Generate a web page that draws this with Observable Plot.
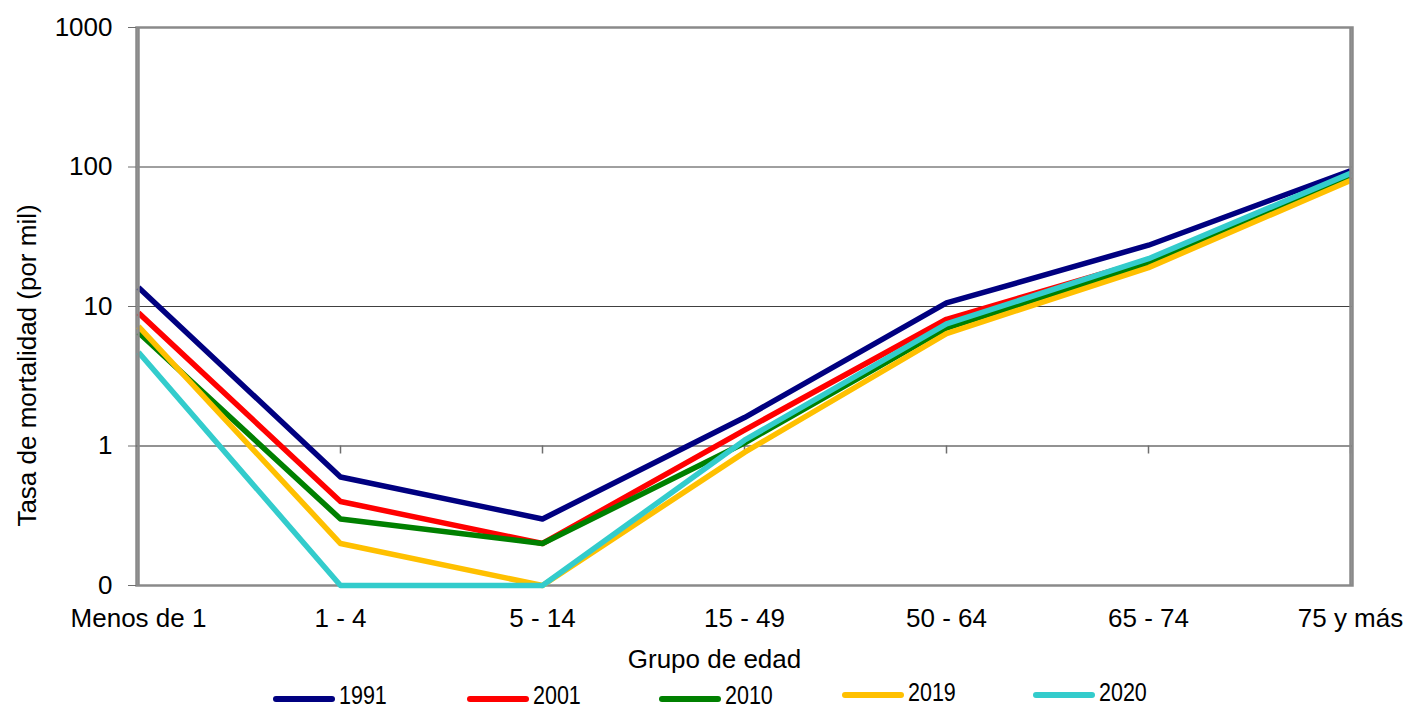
<!DOCTYPE html>
<html>
<head>
<meta charset="utf-8">
<script src="https://cdn.jsdelivr.net/npm/d3@7"></script>
<script src="https://cdn.jsdelivr.net/npm/@observablehq/plot@0.6"></script>
<style>
  html, body { margin: 0; padding: 0; background: white; }
  body { width: 1408px; height: 708px; overflow: hidden; font-family: "Liberation Sans", Arial, sans-serif; }
  #legend { position: relative; width: 1408px; height: 33px; }
  .sw { position: absolute; height: 6px; border-radius: 3px; width: 62px; }
  .lt { position: absolute; font-size: 25px; line-height: 20px; height: 20px; color: black; transform: scaleX(0.86); transform-origin: left center; white-space: nowrap; }
</style>
</head>
<body>
<div id="chart"></div>
<div id="legend"></div>
<script>
const categories = ["Menos de 1", "1 - 4", "5 - 14", "15 - 49", "50 - 64", "65 - 74", "75 y más"];
const years = ["1991", "2001", "2010", "2019", "2020"];
const colors = ["#000080", "#ff0000", "#008000", "#ffc000", "#33cccc"];
const v1991 = [13.7, 0.6, 0.3, 1.6, 10.6, 27.5, 94];
const v2001 = [9.0, 0.4, 0.2, 1.3, 8.1, 21.5, 86];
const v2010 = [6.5, 0.3, 0.2, 1.05, 7.0, 20.5, 85];
const v2019 = [7.2, 0.2, 0.1, 0.9, 6.4, 19.0, 80];
const v2020 = [4.7, 0.1, 0.1, 1.1, 7.5, 22.0, 90];
const yTicks = [0.1, 1, 10, 100, 1000];
const yTickLabels = ["0", "1", "10", "100", "1000"];
const xTitle = "Grupo de edad";
const yTitle = "Tasa de mortalidad (por mil)";

const series = [v1991, v2001, v2010, v2019, v2020];
const data = [];
years.forEach((yr, i) => categories.forEach((c, j) => data.push({year: yr, group: c, value: series[i][j]})));

const font = "'Liberation Sans', Arial, sans-serif";

const chart = Plot.plot({
  width: 1408,
  height: 675,
  marginLeft: 136,
  marginRight: 56,
  marginTop: 27,
  marginBottom: 90,
  style: {fontFamily: font, fontSize: "26px", color: "black", background: "white", overflow: "visible"},
  x: {type: "point", domain: categories, padding: 0, axis: null},
  y: {type: "log", domain: [0.1, 1000], axis: null},
  color: {domain: years, range: colors},
  marks: [
    Plot.ruleY([10, 100], {stroke: "#404040", strokeWidth: 1}),
    Plot.frame({stroke: "#8a8a8a", strokeWidth: 2.5}),
    Plot.ruleY([1], {stroke: "#6e6e6e", strokeWidth: 1.5}),
    Plot.ruleX(categories.slice(1), {x: d => d, y1: () => 1, y2: () => 1, insetBottom: -8, stroke: "#6e6e6e", strokeWidth: 1.5}),
    Plot.line(data, {x: "group", y: "value", z: "year", stroke: "year", strokeWidth: 5.5, strokeLinecap: "butt", strokeLinejoin: "round"}),
    Plot.ruleX([categories[0], categories[categories.length - 1]], {x: d => d, stroke: "#8a8a8a", strokeWidth: 2.5}),
    Plot.axisY({ticks: yTicks, tickFormat: d => yTickLabels[yTicks.indexOf(d)], tickSize: 8, tickPadding: 16, stroke: "#6e6e6e", fill: "black", fontSize: 26, label: null}),
    Plot.axisX({tickSize: 0, tickPadding: 23, fontSize: 26, fill: "black", label: null}),
    Plot.text([xTitle], {frameAnchor: "bottom", dy: 82, dx: -30, lineAnchor: "bottom", fontSize: 26, fill: "black"}),
    Plot.text([yTitle], {frameAnchor: "left", rotate: -90, dx: -101, dy: 59, lineAnchor: "bottom", textAnchor: "middle", fontSize: 26, fill: "black"})
  ]
});
document.getElementById("chart").appendChild(chart);

// legend (below the SVG)
const legendLeft = [273, 467, 659, 842, 1033];
const legendSwatchTop = [21, 21, 21, 17, 17];
const legendTextTop = [10, 10, 10, 7, 7];
const legend = document.getElementById("legend");
years.forEach((yr, i) => {
  const sw = document.createElement("div");
  sw.className = "sw";
  sw.style.left = legendLeft[i] + "px";
  sw.style.top = legendSwatchTop[i] + "px";
  sw.style.background = colors[i];
  legend.appendChild(sw);
  const t = document.createElement("div");
  t.className = "lt";
  t.style.left = (legendLeft[i] + 66) + "px";
  t.style.top = legendTextTop[i] + "px";
  t.textContent = yr;
  legend.appendChild(t);
});
</script>
</body>
</html>
